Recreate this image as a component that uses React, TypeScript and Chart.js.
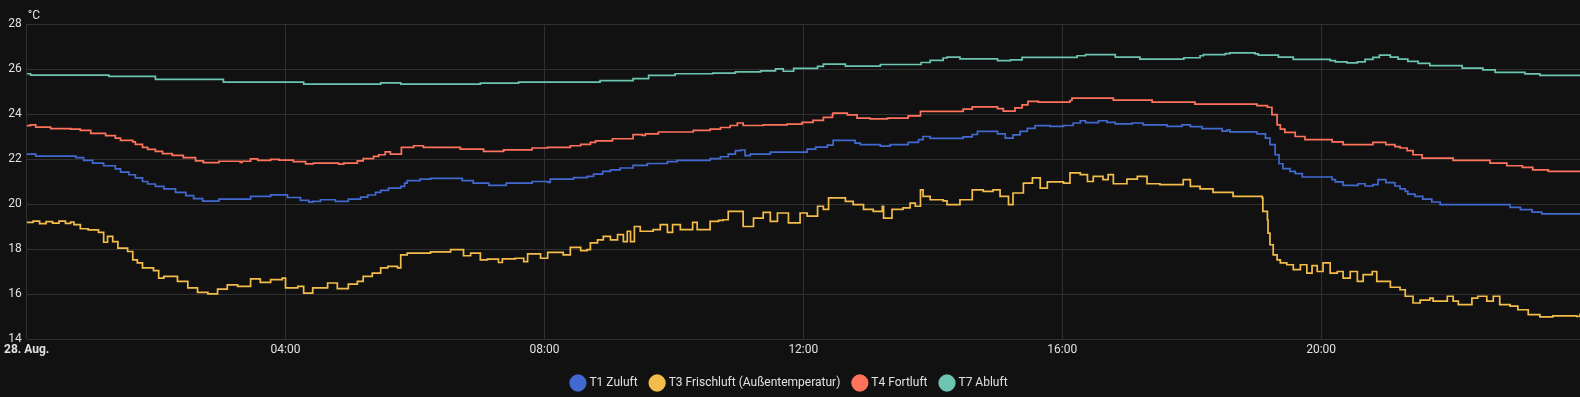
import React, { useEffect, useRef } from "react";
import { Chart, registerables } from "chart.js";

Chart.register(...registerables);

// Hours since 28. Aug. 00:00
const xTickHours = [0, 4, 8, 12, 16, 20];
const xTickLabels = ["28. Aug.", "04:00", "08:00", "12:00", "16:00", "20:00"];
const yTicks = [14, 16, 18, 20, 22, 24, 26, 28];

const seriesNames = ["T1 Zuluft", "T3 Frischluft (Außentemperatur)", "T4 Fortluft", "T7 Abluft"];
const seriesColors = ["#4269d0", "#f4bd4a", "#ff725c", "#6cc5b0"];

const t1Hours = [0, 0.14, 0.76, 0.88, 1.02, 1.19, 1.37, 1.45, 1.58, 1.68, 1.79, 1.87, 1.99, 2.12, 2.3, 2.46, 2.58, 2.72, 2.97, 3.46, 3.77, 4.03, 4.23, 4.36, 4.42, 4.54, 4.77, 4.97, 5.16, 5.27, 5.39, 5.47, 5.59, 5.78, 5.84, 5.88, 6.08, 6.24, 6.73, 6.9, 7.14, 7.41, 7.81, 8.05, 8.09, 8.45, 8.66, 8.76, 8.9, 9.02, 9.17, 9.37, 9.59, 9.9, 10.05, 10.56, 10.72, 10.84, 10.95, 11.03, 11.1, 11.18, 11.49, 12.06, 12.19, 12.37, 12.46, 12.8, 12.88, 13.19, 13.34, 13.62, 13.78, 13.85, 13.96, 14.47, 14.61, 14.69, 15.0, 15.12, 15.24, 15.35, 15.46, 15.58, 15.81, 16.02, 16.17, 16.28, 16.36, 16.56, 16.69, 16.82, 17.08, 17.25, 17.62, 17.85, 17.98, 18.16, 18.47, 18.55, 18.59, 19.01, 19.14, 19.21, 19.29, 19.35, 19.41, 19.52, 19.6, 19.71, 20.17, 20.22, 20.34, 20.57, 20.68, 20.8, 20.88, 21.0, 21.14, 21.22, 21.3, 21.34, 21.45, 21.57, 21.71, 21.84, 22.92, 23.08, 23.26, 23.41, 24];
const t1Values = [22.22, 22.13, 22.06, 21.94, 21.82, 21.7, 21.56, 21.42, 21.3, 21.16, 21.0, 20.89, 20.78, 20.67, 20.52, 20.37, 20.24, 20.13, 20.22, 20.34, 20.41, 20.29, 20.16, 20.08, 20.12, 20.19, 20.12, 20.22, 20.31, 20.4, 20.52, 20.61, 20.71, 20.78, 20.93, 21.04, 21.11, 21.14, 21.04, 20.93, 20.83, 20.93, 21.0, 20.96, 21.11, 21.17, 21.23, 21.33, 21.45, 21.52, 21.6, 21.72, 21.8, 21.88, 21.94, 22.02, 22.1, 22.22, 22.37, 22.4, 22.15, 22.22, 22.31, 22.44, 22.53, 22.62, 22.83, 22.71, 22.64, 22.57, 22.64, 22.74, 22.86, 23.0, 22.92, 22.98, 23.09, 23.23, 23.12, 22.93, 23.07, 23.23, 23.36, 23.48, 23.45, 23.49, 23.6, 23.7, 23.62, 23.7, 23.63, 23.56, 23.6, 23.52, 23.45, 23.52, 23.44, 23.35, 23.24, 23.3, 23.21, 23.12, 22.93, 22.64, 22.19, 21.79, 21.57, 21.45, 21.35, 21.2, 21.08, 20.98, 20.83, 20.9, 20.8, 20.86, 21.08, 20.95, 20.8, 20.67, 20.56, 20.44, 20.34, 20.22, 20.09, 19.97, 19.85, 19.75, 19.64, 19.56, 19.55];

const t3Hours = [0, 0.1, 0.2, 0.3, 0.4, 0.5, 0.6, 0.68, 0.73, 0.83, 0.95, 1.11, 1.19, 1.25, 1.33, 1.41, 1.56, 1.64, 1.71, 1.79, 1.96, 2.04, 2.12, 2.33, 2.49, 2.64, 2.8, 2.95, 3.1, 3.26, 3.46, 3.61, 3.77, 3.95, 4.0, 4.19, 4.28, 4.42, 4.65, 4.8, 4.97, 5.11, 5.2, 5.34, 5.47, 5.58, 5.73, 5.78, 5.88, 6.24, 6.55, 6.75, 6.86, 7.01, 7.12, 7.29, 7.35, 7.55, 7.68, 7.74, 7.94, 8.05, 8.29, 8.4, 8.56, 8.66, 8.71, 8.82, 8.91, 9.02, 9.13, 9.22, 9.28, 9.33, 9.39, 9.48, 9.68, 9.79, 9.9, 9.98, 10.1, 10.29, 10.36, 10.56, 10.69, 10.76, 10.84, 11.03, 11.07, 11.23, 11.38, 11.49, 11.6, 11.77, 11.95, 12.06, 12.22, 12.31, 12.39, 12.49, 12.65, 12.77, 12.93, 13.08, 13.22, 13.24, 13.37, 13.54, 13.65, 13.73, 13.81, 13.85, 13.96, 14.16, 14.22, 14.42, 14.61, 14.78, 14.93, 15.04, 15.17, 15.24, 15.4, 15.54, 15.66, 15.77, 16.02, 16.12, 16.28, 16.39, 16.48, 16.63, 16.71, 16.79, 17.0, 17.16, 17.31, 17.51, 17.71, 17.87, 17.98, 18.13, 18.33, 18.49, 18.64, 18.86, 19.09, 19.1, 19.17, 19.18, 19.21, 19.26, 19.32, 19.37, 19.47, 19.57, 19.68, 19.78, 19.86, 19.94, 20.03, 20.14, 20.25, 20.34, 20.45, 20.56, 20.65, 20.79, 20.86, 21.07, 21.22, 21.3, 21.42, 21.53, 21.68, 21.73, 21.95, 22.04, 22.12, 22.33, 22.42, 22.56, 22.66, 22.76, 22.92, 23.04, 23.2, 23.38, 23.58, 23.74, 23.95, 24];
const t3Values = [19.18, 19.24, 19.13, 19.22, 19.15, 19.24, 19.14, 19.2, 19.08, 18.9, 18.85, 18.74, 18.3, 18.56, 18.33, 18.04, 17.89, 17.52, 17.38, 17.16, 17.04, 16.71, 16.78, 16.56, 16.27, 16.07, 16.01, 16.22, 16.41, 16.34, 16.67, 16.52, 16.64, 16.71, 16.27, 16.34, 16.04, 16.27, 16.49, 16.24, 16.44, 16.56, 16.78, 16.93, 17.16, 17.23, 17.16, 17.74, 17.82, 17.87, 17.97, 17.7, 17.82, 17.52, 17.55, 17.4, 17.56, 17.59, 17.44, 17.78, 17.59, 17.85, 17.74, 18.07, 17.93, 17.97, 18.27, 18.41, 18.56, 18.41, 18.64, 18.33, 18.79, 18.33, 19.0, 18.79, 18.86, 19.08, 18.74, 19.08, 18.86, 19.18, 18.86, 19.23, 19.27, 19.3, 19.67, 19.67, 19.0, 19.37, 19.63, 19.23, 19.6, 19.16, 19.6, 19.46, 19.9, 19.76, 20.27, 20.27, 20.12, 19.97, 19.76, 19.67, 19.9, 19.37, 19.76, 19.83, 20.04, 19.9, 20.63, 20.34, 20.19, 20.14, 19.97, 20.19, 20.63, 20.56, 20.63, 20.34, 19.97, 20.49, 20.93, 21.16, 20.71, 20.98, 20.93, 21.38, 21.31, 21.0, 21.23, 21.08, 21.31, 20.9, 21.11, 21.23, 20.9, 20.86, 20.86, 21.08, 20.78, 20.67, 20.52, 20.52, 20.34, 20.34, 20.27, 19.67, 19.3, 18.71, 18.19, 17.74, 17.52, 17.38, 17.3, 17.08, 17.3, 16.93, 17.26, 17.0, 17.38, 16.93, 17.0, 16.71, 17.0, 16.56, 16.86, 17.0, 16.56, 16.3, 16.19, 15.9, 15.6, 15.73, 15.82, 15.68, 15.9, 15.68, 15.53, 15.82, 15.9, 15.68, 15.9, 15.53, 15.46, 15.3, 15.08, 14.98, 15.03, 15.03, 15.0, 15.13];

const t4Hours = [0, 0.06, 0.14, 0.37, 0.68, 0.83, 0.99, 1.22, 1.37, 1.45, 1.64, 1.68, 1.79, 1.87, 1.99, 2.1, 2.25, 2.42, 2.61, 2.73, 2.97, 3.3, 3.33, 3.46, 3.57, 3.77, 3.9, 4.12, 4.31, 4.43, 4.82, 4.9, 5.11, 5.2, 5.36, 5.44, 5.54, 5.62, 5.79, 5.98, 6.13, 6.7, 7.06, 7.37, 7.81, 8.05, 8.4, 8.56, 8.71, 8.79, 9.05, 9.37, 9.51, 9.56, 9.76, 10.3, 10.56, 10.72, 10.87, 10.98, 11.07, 11.38, 11.75, 11.98, 12.15, 12.31, 12.45, 12.46, 12.68, 12.83, 13.03, 13.3, 13.62, 13.81, 14.47, 14.61, 15.0, 15.09, 15.27, 15.38, 15.47, 15.63, 16.12, 16.15, 16.79, 17.39, 18.05, 19.01, 19.17, 19.24, 19.32, 19.37, 19.44, 19.6, 19.75, 20.17, 20.34, 20.8, 21.0, 21.14, 21.22, 21.33, 21.42, 21.56, 22.04, 22.61, 22.87, 23.11, 23.27, 23.51, 24];
const t4Values = [23.48, 23.52, 23.42, 23.35, 23.33, 23.27, 23.14, 23.04, 22.93, 22.83, 22.76, 22.65, 22.52, 22.43, 22.34, 22.24, 22.16, 22.06, 21.92, 21.84, 21.9, 21.85, 21.9, 22.01, 21.94, 21.98, 21.95, 21.88, 21.78, 21.82, 21.77, 21.82, 21.92, 22.02, 22.12, 22.19, 22.32, 22.22, 22.52, 22.59, 22.52, 22.44, 22.34, 22.41, 22.49, 22.52, 22.59, 22.65, 22.74, 22.81, 22.9, 23.08, 23.05, 23.12, 23.2, 23.27, 23.33, 23.4, 23.49, 23.6, 23.49, 23.52, 23.55, 23.63, 23.72, 23.85, 23.98, 24.04, 23.96, 23.82, 23.78, 23.82, 23.92, 24.12, 24.22, 24.32, 24.24, 24.13, 24.27, 24.41, 24.56, 24.53, 24.6, 24.71, 24.62, 24.53, 24.44, 24.37, 24.3, 23.97, 23.52, 23.33, 23.18, 23.0, 22.86, 22.76, 22.64, 22.74, 22.64, 22.55, 22.49, 22.37, 22.19, 22.04, 21.94, 21.82, 21.7, 21.63, 21.52, 21.45, 21.45];

const t7Hours = [0, 0.06, 1.27, 1.99, 3.04, 4.28, 5.47, 5.78, 7.01, 7.6, 8.86, 9.37, 9.61, 10.02, 10.6, 10.95, 11.34, 11.57, 11.69, 11.85, 12.22, 12.31, 12.65, 13.19, 13.82, 13.96, 14.16, 14.22, 14.42, 15.0, 15.2, 15.38, 16.23, 16.36, 16.82, 17.2, 17.88, 18.13, 18.18, 18.52, 18.59, 18.98, 19.03, 19.34, 19.57, 20.14, 20.22, 20.4, 20.56, 20.68, 20.8, 20.9, 21.07, 21.19, 21.34, 21.5, 21.68, 22.18, 22.5, 22.69, 23.15, 23.38, 24];
const t7Values = [25.79, 25.73, 25.67, 25.54, 25.42, 25.33, 25.38, 25.33, 25.37, 25.42, 25.48, 25.57, 25.72, 25.79, 25.82, 25.87, 25.92, 26.01, 25.9, 26.03, 26.12, 26.22, 26.13, 26.2, 26.29, 26.38, 26.49, 26.53, 26.45, 26.37, 26.41, 26.52, 26.59, 26.64, 26.53, 26.44, 26.5, 26.59, 26.64, 26.68, 26.72, 26.67, 26.62, 26.53, 26.43, 26.37, 26.32, 26.27, 26.32, 26.43, 26.52, 26.62, 26.53, 26.44, 26.34, 26.25, 26.15, 26.04, 25.96, 25.85, 25.78, 25.72, 25.72];

const toPoints = (hours: number[], values: number[]) => hours.map((h, i) => ({ x: h, y: values[i] }));

const FONT = "Roboto";
const TEXT = "#e1e1e1";
const GRID = "#303030";

const unitPlugin = {
  id: "unitLabel",
  afterDraw(chart: any) {
    const { ctx, chartArea } = chart;
    ctx.save();
    ctx.font = `12px ${FONT}`;
    ctx.fillStyle = TEXT;
    ctx.textAlign = "left";
    ctx.textBaseline = "alphabetic";
    ctx.fillText("°C", chartArea.left + 1, 19);
    ctx.restore();
  },
};

export default function App() {
  const ref = useRef<HTMLCanvasElement | null>(null);

  useEffect(() => {
    document.body.style.margin = "0";
    document.body.style.background = "#111111";
    const canvas = ref.current!;
    const all = [
      toPoints(t1Hours, t1Values),
      toPoints(t3Hours, t3Values),
      toPoints(t4Hours, t4Values),
      toPoints(t7Hours, t7Values),
    ];
    const chart = new Chart(canvas, {
      type: "line",
      data: {
        datasets: all.map((pts, i) => ({
          label: seriesNames[i],
          data: pts,
          borderColor: seriesColors[i],
          backgroundColor: seriesColors[i],
          borderWidth: 1.7,
          pointRadius: 0,
          pointHoverRadius: 0,
          stepped: "before",
          tension: 0,
          fill: false,
        })),
      },
      options: {
        animation: false,
        responsive: false,
        devicePixelRatio: 1,
        layout: { padding: { top: 24, left: 0, right: 0, bottom: 0 } },
        plugins: {
          tooltip: { enabled: false },
          legend: {
            position: "bottom",
            labels: {
              usePointStyle: true,
              pointStyle: "circle",
              boxWidth: 11,
              boxHeight: 11,
              padding: 14,
              color: TEXT,
              font: { family: FONT, size: 12 },
            },
          },
        },
        scales: {
          x: {
            type: "linear",
            min: 0,
            max: 24,
            afterBuildTicks: (scale: any) => {
              scale.ticks = xTickHours.map((v) => ({ value: v }));
            },
            afterFit: (scale: any) => {
              scale.height = 24;
            },
            ticks: {
              autoSkip: false,
              maxRotation: 0,
              padding: 4,
              color: TEXT,
              font: (ctx: any) => ({ family: FONT, size: 12, weight: ctx.index === 0 ? "bold" : "normal" }),
              callback: (_v: any, i: number) => xTickLabels[i],
            },
            grid: { color: GRID, drawTicks: false },
            border: { display: false },
          },
          y: {
            type: "linear",
            min: yTicks[0],
            max: yTicks[yTicks.length - 1],
            afterBuildTicks: (scale: any) => {
              scale.ticks = yTicks.map((v) => ({ value: v }));
            },
            afterFit: (scale: any) => {
              scale.width = 26;
            },
            ticks: {
              padding: 5,
              color: TEXT,
              font: { family: FONT, size: 12 },
              callback: (v: any) => String(v),
            },
            grid: { color: GRID, drawTicks: false },
            border: { display: false },
          },
        },
      },
      plugins: [unitPlugin],
    });
    return () => chart.destroy();
  }, []);

  return (
    <div style={{ position: "fixed", left: 0, top: 0, width: 1580, height: 399, background: "#111111" }}>
      <canvas ref={ref} width={1580} height={399} style={{ display: "block", width: 1580, height: 399 }} />
    </div>
  );
}
